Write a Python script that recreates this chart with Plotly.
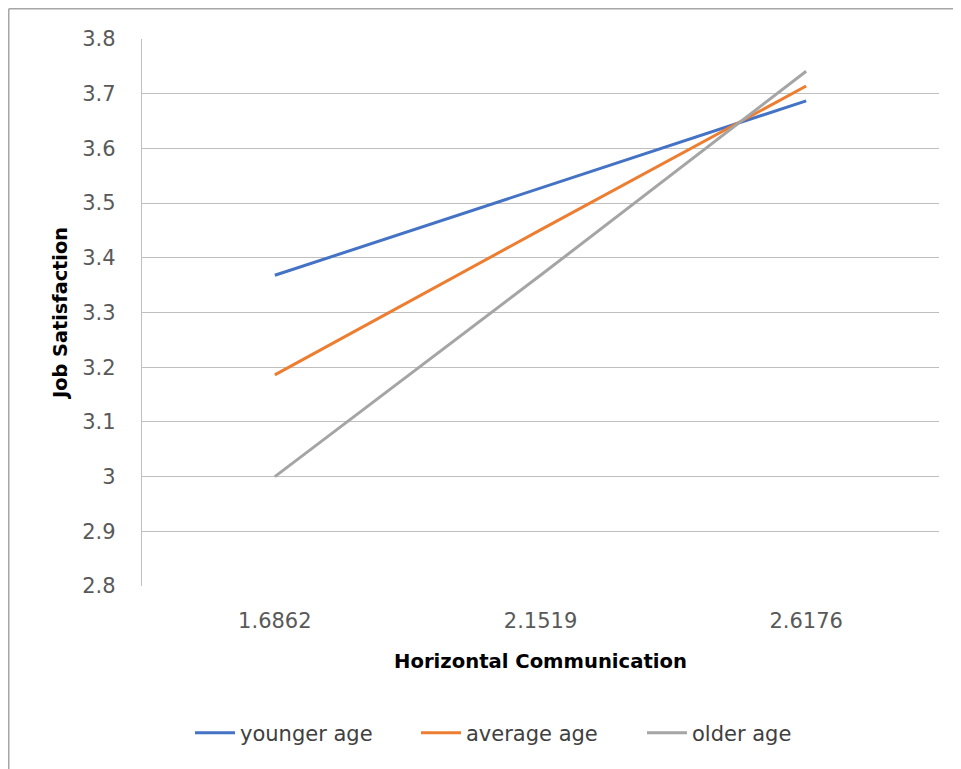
import plotly.graph_objects as go

categories = ["1.6862", "2.1519", "2.6176"]
younger_age = [3.368, 3.528, 3.687]
average_age = [3.186, 3.451, 3.714]
older_age = [3.000, 3.368, 3.741]
y_ticks = [2.8, 2.9, 3.0, 3.1, 3.2, 3.3, 3.4, 3.5, 3.6, 3.7, 3.8]
y_tick_labels = ["2.8", "2.9", "3", "3.1", "3.2", "3.3", "3.4", "3.5", "3.6", "3.7", "3.8"]

series = [
    ("younger age", younger_age, "#4472C4"),
    ("average age", average_age, "#ED7D31"),
    ("older age", older_age, "#A5A5A5"),
]

FONT = "DejaVu Sans"
W, H = 961, 769
L, R, T, B = 134, 30, 31, 191
PW, PH = W - L - R, H - T - B

fig = go.Figure()
for name, vals, color in series:
    fig.add_trace(go.Scatter(
        x=categories, y=vals, name=name, mode="lines",
        line=dict(color=color, width=3),
    ))

fig.update_layout(
    width=W, height=H,
    margin=dict(l=L, r=R, t=T, b=B, autoexpand=False),
    paper_bgcolor="white", plot_bgcolor="white",
    font=dict(family=FONT, size=21, color="#595959"),
    showlegend=True,
    legend=dict(
        orientation="h", x=(182 - L) / PW, xanchor="left", y=-147 / PH, yanchor="middle",
        font=dict(family=FONT, size=21, color="#404040"),
        itemwidth=40, tracegroupgap=0,
        entrywidth=171, entrywidthmode="pixels",
    ),
    xaxis=dict(
        type="category", range=[-0.5, 2.5],
        showgrid=False, zeroline=False, showline=False,
        ticks="", ticklabelstandoff=20,
        tickfont=dict(family=FONT, size=21, color="#595959"),
        title=dict(text="<b>Horizontal Communication</b>", standoff=22,
                   font=dict(family=FONT, size=19.6, color="#000000")),
    ),
    yaxis=dict(
        range=[2.8, 3.8], tickvals=y_ticks, ticktext=y_tick_labels,
        showgrid=True, gridcolor="#BFBFBF", gridwidth=1.3,
        zeroline=False, showline=True, linecolor="#BFBFBF", linewidth=1.3,
        ticks="", ticklabelstandoff=21,
        tickfont=dict(family=FONT, size=21, color="#595959"),
        title=dict(text="<b>Job Satisfaction</b>", standoff=9,
                   font=dict(family=FONT, size=19.3, color="#000000")),
    ),
)

# outer chart border (left and top edges visible in the reference)
bx = (0.75 - L) / PW
by = (PH + T - 0.75) / PH
fig.add_shape(type="line", xref="paper", yref="paper",
              x0=bx, x1=bx, y0=-1, y1=by,
              line=dict(color="#A6A6A6", width=1.5))
fig.add_shape(type="line", xref="paper", yref="paper",
              x0=bx, x1=2, y0=by, y1=by,
              line=dict(color="#A6A6A6", width=1.5))

fig.write_html("out.html")
